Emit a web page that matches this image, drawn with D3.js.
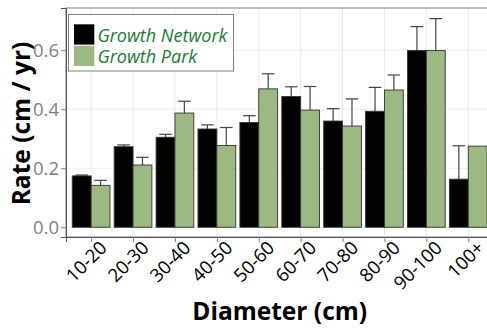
<!DOCTYPE html>
<html>
<head>
<meta charset="utf-8">
<script src="https://cdn.jsdelivr.net/npm/d3@7"></script>
<style>
  html, body { margin: 0; padding: 0; background: #fff; }
  svg { display: block; font-family: "Open Sans", "Noto Sans", sans-serif; }
</style>
</head>
<body>
<svg id="chart" width="487" height="330"></svg>
<script>
// Diameter classes
const categories = ["10-20", "20-30", "30-40", "40-50", "50-60", "60-70", "70-80", "80-90", "90-100", "100+"];
// Series names and colours
const seriesNames = ["Growth Network", "Growth Park"];
const seriesColors = ["#030303", "#9cb883"];
// Mean growth rate (cm / yr)
const networkRate = [0.174, 0.273, 0.305, 0.333, 0.355, 0.443, 0.360, 0.393, 0.599, 0.163];
const parkRate    = [0.142, 0.211, 0.387, 0.277, 0.469, 0.397, 0.343, 0.465, 0.599, 0.275];
// Upper end of error bar (null = none)
const networkUpper = [0.177, 0.279, 0.315, 0.347, 0.378, 0.476, 0.402, 0.474, 0.680, 0.276];
const parkUpper    = [0.159, 0.237, 0.427, 0.338, 0.520, 0.477, 0.435, 0.516, 0.707, null];
// Y tick values
const yTicks = [0, 0.2, 0.4, 0.6];

const svg = d3.select("#chart");
const panel = { left: 66, right: 493.4, top: 8, bottom: 237 };

const x = d3.scalePoint().domain(categories).range([panel.left, panel.right]).padding(0.6);
const step = x.step();
const xSub = d3.scaleBand().domain(seriesNames).range([-0.45 * step, 0.45 * step]).padding(0);
const y = d3.scaleLinear().domain([-0.033, 0.743]).range([panel.bottom, panel.top]);

const rows = [];
categories.forEach((c, i) => {
  rows.push({ cat: c, s: seriesNames[0], v: networkRate[i], up: networkUpper[i], col: seriesColors[0] });
  rows.push({ cat: c, s: seriesNames[1], v: parkRate[i], up: parkUpper[i], col: seriesColors[1] });
});

// grid
const grid = svg.append("g");
grid.selectAll("line.h").data(yTicks).join("line")
  .attr("x1", panel.left).attr("x2", panel.right)
  .attr("y1", d => y(d)).attr("y2", d => y(d))
  .attr("stroke", "#ebebeb").attr("stroke-width", 1);
grid.selectAll("line.v").data(categories).join("line")
  .attr("x1", d => x(d)).attr("x2", d => x(d))
  .attr("y1", panel.top).attr("y2", panel.bottom)
  .attr("stroke", "#ebebeb").attr("stroke-width", 1);

// error bars (upper only)
const eb = svg.append("g");
const ebRows = rows.filter(r => r.up !== null);
const capHalf = 0.15 * step;
eb.selectAll("line.stem").data(ebRows).join("line")
  .attr("x1", r => x(r.cat) + xSub(r.s) + xSub.bandwidth() / 2)
  .attr("x2", r => x(r.cat) + xSub(r.s) + xSub.bandwidth() / 2)
  .attr("y1", r => y(r.v)).attr("y2", r => y(r.up))
  .attr("stroke", "#444").attr("stroke-width", 1.2);
eb.selectAll("line.cap").data(ebRows).join("line")
  .attr("x1", r => x(r.cat) + xSub(r.s) + xSub.bandwidth() / 2 - capHalf)
  .attr("x2", r => x(r.cat) + xSub(r.s) + xSub.bandwidth() / 2 + capHalf)
  .attr("y1", r => y(r.up)).attr("y2", r => y(r.up))
  .attr("stroke", "#444").attr("stroke-width", 1.2);

// bars
svg.append("g").selectAll("rect").data(rows).join("rect")
  .attr("x", r => x(r.cat) + xSub(r.s))
  .attr("width", xSub.bandwidth())
  .attr("y", r => y(r.v))
  .attr("height", r => y(0) - y(r.v))
  .attr("fill", r => r.col)
  .attr("stroke", "#333").attr("stroke-width", 0.9);

// panel border
svg.append("rect")
  .attr("x", panel.left).attr("y", panel.top)
  .attr("width", panel.right - panel.left).attr("height", panel.bottom - panel.top)
  .attr("fill", "none").attr("stroke", "#7f7f7f").attr("stroke-width", 1);

// y axis
const yAxis = svg.append("g").attr("transform", `translate(${panel.left},0)`)
  .call(d3.axisLeft(y).tickValues(yTicks).tickFormat(d3.format(".1f")).tickSize(5).tickPadding(2));
yAxis.select(".domain").attr("stroke", "#555");
yAxis.selectAll(".tick line").attr("stroke", "#7f7f7f");
yAxis.selectAll(".tick text").attr("fill", "#7f7f7f").attr("font-size", 18.5)
  .attr("font-family", "'Open Sans', sans-serif");

// x axis
const xAxis = svg.append("g").attr("transform", `translate(0,${panel.bottom})`)
  .call(d3.axisBottom(x).tickSize(5).tickPadding(2));
xAxis.select(".domain").attr("stroke", "#555");
xAxis.selectAll(".tick line").attr("stroke", "#7f7f7f");
xAxis.selectAll(".tick text")
  .attr("fill", "#000").attr("font-size", 18.5)
  .attr("font-family", "'Open Sans', sans-serif")
  .attr("text-anchor", "end")
  .attr("dy", "0.71em")
  .attr("y", 7)
  .attr("x", 3)
  .attr("transform", "rotate(-45)");

// axis titles
svg.append("text")
  .attr("x", (panel.left + panel.right) / 2).attr("y", 320)
  .attr("text-anchor", "middle")
  .attr("font-size", 24.5).attr("font-weight", "bold").attr("fill", "#000")
  .text("Diameter (cm)");
svg.append("text")
  .attr("transform", `translate(30,${(panel.top + panel.bottom) / 2 + 1}) rotate(-90)`)
  .attr("text-anchor", "middle")
  .attr("font-size", 24.5).attr("font-weight", "bold").attr("fill", "#000")
  .text("Rate (cm / yr)");

// legend
const lg = svg.append("g");
lg.append("rect").attr("x", 68.5).attr("y", 14.5).attr("width", 165).attr("height", 56.5)
  .attr("fill", "#fff").attr("stroke", "#7f7f7f").attr("stroke-width", 1);
seriesNames.forEach((name, i) => {
  lg.append("rect").attr("x", 74).attr("y", 24.3 + i * 21.4).attr("width", 20.3).attr("height", 20.3)
    .attr("fill", seriesColors[i]);
  lg.append("text").attr("x", 97.5).attr("y", 41.5 + i * 21.2)
    .attr("font-size", 18).attr("font-style", "italic").attr("fill", "#1a7a38")
    .text(name);
});
</script>
</body>
</html>
